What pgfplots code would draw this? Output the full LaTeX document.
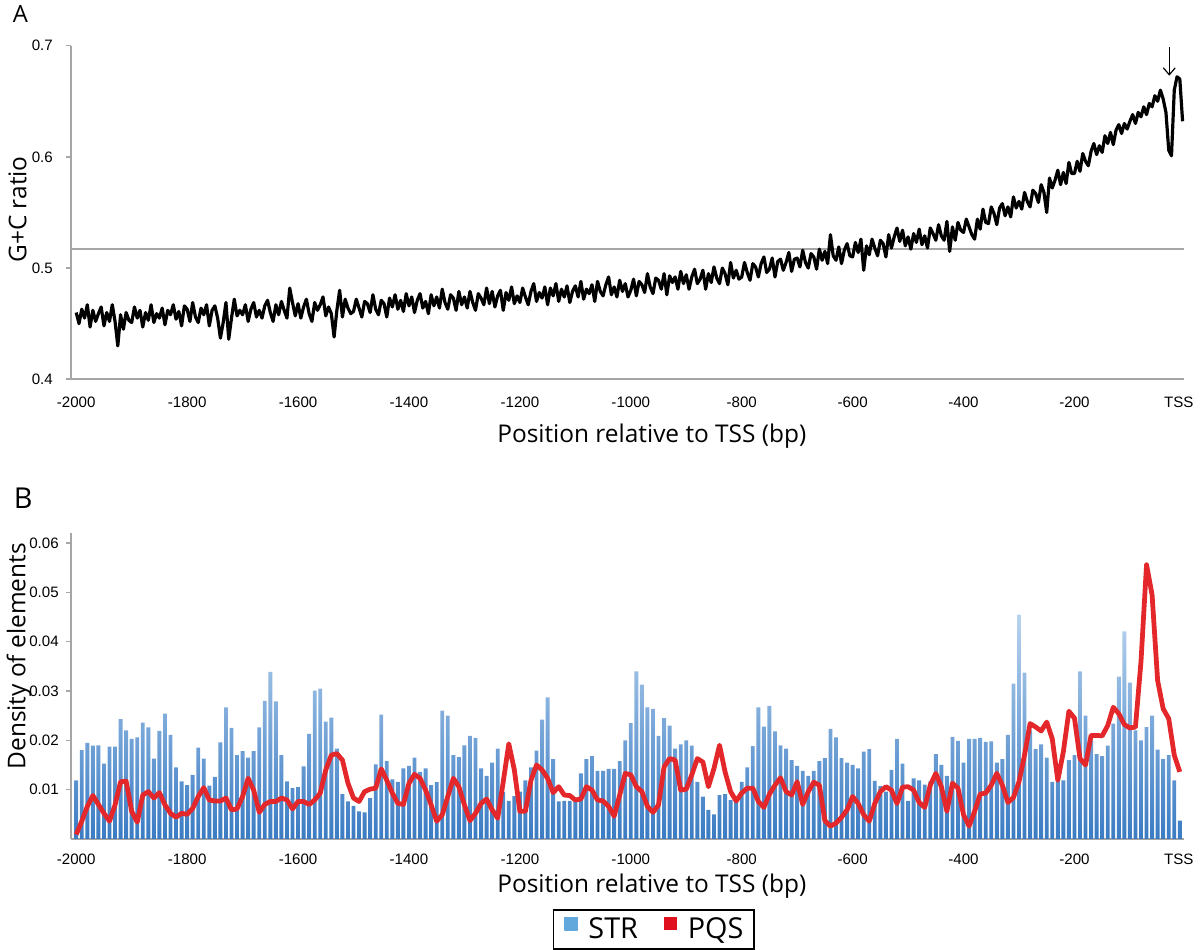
\documentclass[border=0pt]{standalone}
\usepackage{pgfplots}
\pgfplotsset{compat=1.18}
\usepackage{pgfplotstable}
\usetikzlibrary{arrows.meta}
\usepackage{fontspec}
\setmainfont{Liberation Sans}
\newfontfamily\lab{Open Sans}
\definecolor{axgray}{HTML}{A6A6A6}
\definecolor{barbot}{HTML}{3A7BC3}
\definecolor{bartop}{HTML}{B8D3EE}
\definecolor{pqsred}{HTML}{E3272A}
\definecolor{legblue}{HTML}{62A8DC}
\definecolor{legred}{HTML}{E0101F}

\pgfplotstableread[row sep=\\]{y\\
0.460\\0.450\\0.463\\0.455\\0.467\\0.447\\0.462\\0.452\\0.459\\0.465\\0.448\\0.460\\0.452\\0.467\\0.452\\0.430\\0.458\\0.445\\0.460\\0.453\\
0.451\\0.465\\0.455\\0.462\\0.447\\0.460\\0.453\\0.467\\0.451\\0.459\\0.455\\0.464\\0.449\\0.462\\0.458\\0.467\\0.454\\0.461\\0.448\\0.466\\
0.463\\0.452\\0.469\\0.456\\0.451\\0.464\\0.458\\0.467\\0.448\\0.462\\0.466\\0.455\\0.437\\0.451\\0.469\\0.436\\0.455\\0.472\\0.457\\0.462\\
0.458\\0.467\\0.452\\0.463\\0.469\\0.456\\0.462\\0.455\\0.466\\0.471\\0.460\\0.452\\0.467\\0.458\\0.470\\0.462\\0.455\\0.482\\0.469\\0.457\\
0.468\\0.455\\0.465\\0.472\\0.459\\0.452\\0.469\\0.462\\0.467\\0.474\\0.457\\0.465\\0.459\\0.438\\0.462\\0.480\\0.456\\0.472\\0.464\\0.459\\
0.461\\0.472\\0.464\\0.456\\0.470\\0.468\\0.460\\0.476\\0.463\\0.458\\0.471\\0.468\\0.456\\0.473\\0.465\\0.476\\0.463\\0.471\\0.461\\0.477\\
0.466\\0.474\\0.460\\0.471\\0.477\\0.464\\0.470\\0.459\\0.476\\0.466\\0.474\\0.464\\0.481\\0.469\\0.463\\0.476\\0.473\\0.462\\0.479\\0.467\\
0.474\\0.464\\0.479\\0.469\\0.462\\0.477\\0.473\\0.467\\0.482\\0.468\\0.479\\0.465\\0.475\\0.480\\0.462\\0.478\\0.471\\0.483\\0.468\\0.475\\
0.469\\0.482\\0.474\\0.467\\0.479\\0.486\\0.470\\0.478\\0.473\\0.483\\0.467\\0.482\\0.475\\0.486\\0.470\\0.481\\0.474\\0.484\\0.469\\0.479\\
0.484\\0.474\\0.488\\0.472\\0.481\\0.477\\0.485\\0.470\\0.488\\0.479\\0.475\\0.485\\0.492\\0.476\\0.483\\0.474\\0.489\\0.479\\0.486\\0.474\\
0.480\\0.490\\0.475\\0.488\\0.485\\0.478\\0.495\\0.483\\0.477\\0.491\\0.489\\0.481\\0.495\\0.476\\0.493\\0.487\\0.492\\0.481\\0.497\\0.486\\
0.494\\0.481\\0.492\\0.499\\0.486\\0.490\\0.498\\0.481\\0.495\\0.487\\0.501\\0.491\\0.486\\0.500\\0.495\\0.485\\0.505\\0.491\\0.498\\0.490\\
0.492\\0.505\\0.496\\0.489\\0.504\\0.501\\0.492\\0.504\\0.510\\0.496\\0.499\\0.509\\0.492\\0.506\\0.508\\0.498\\0.505\\0.514\\0.497\\0.508\\
0.509\\0.501\\0.516\\0.505\\0.500\\0.513\\0.510\\0.499\\0.517\\0.507\\0.515\\0.504\\0.530\\0.511\\0.507\\0.519\\0.504\\0.516\\0.522\\0.511\\
0.510\\0.523\\0.514\\0.526\\0.498\\0.520\\0.512\\0.526\\0.518\\0.511\\0.525\\0.522\\0.510\\0.530\\0.518\\0.528\\0.536\\0.524\\0.534\\0.520\\
0.528\\0.517\\0.531\\0.523\\0.535\\0.521\\0.529\\0.518\\0.536\\0.531\\0.525\\0.539\\0.529\\0.525\\0.542\\0.515\\0.537\\0.525\\0.541\\0.534\\
0.532\\0.544\\0.537\\0.530\\0.526\\0.544\\0.535\\0.553\\0.541\\0.540\\0.555\\0.549\\0.539\\0.554\\0.558\\0.547\\0.555\\0.546\\0.564\\0.554\\
0.560\\0.553\\0.568\\0.560\\0.555\\0.570\\0.567\\0.559\\0.575\\0.568\\0.550\\0.581\\0.572\\0.579\\0.588\\0.575\\0.586\\0.576\\0.595\\0.585\\
0.585\\0.596\\0.587\\0.603\\0.596\\0.592\\0.605\\0.612\\0.602\\0.610\\0.604\\0.619\\0.612\\0.622\\0.611\\0.624\\0.629\\0.621\\0.630\\0.625\\
0.632\\0.638\\0.630\\0.640\\0.636\\0.645\\0.638\\0.648\\0.645\\0.655\\0.650\\0.660\\0.652\\0.640\\0.606\\0.601\\0.660\\0.672\\0.670\\0.632\\
}\gctable

\pgfplotstableread[row sep=\\]{y\\
0.0119\\0.0180\\0.0195\\0.0189\\0.0190\\0.0153\\0.0187\\0.0187\\0.0243\\0.0220\\
0.0203\\0.0206\\0.0236\\0.0226\\0.0163\\0.0219\\0.0254\\0.0211\\0.0145\\0.0117\\
0.0109\\0.0130\\0.0185\\0.0163\\0.0108\\0.0126\\0.0196\\0.0267\\0.0225\\0.0170\\
0.0178\\0.0165\\0.0178\\0.0226\\0.0280\\0.0339\\0.0279\\0.0170\\0.0117\\0.0103\\
0.0105\\0.0147\\0.0213\\0.0301\\0.0305\\0.0238\\0.0246\\0.0183\\0.0091\\0.0076\\
0.0067\\0.0056\\0.0054\\0.0083\\0.0151\\0.0252\\0.0158\\0.0121\\0.0116\\0.0143\\
0.0148\\0.0165\\0.0136\\0.0143\\0.0109\\0.0115\\0.0260\\0.0250\\0.0170\\0.0166\\
0.0190\\0.0209\\0.0205\\0.0143\\0.0128\\0.0155\\0.0183\\0.0095\\0.0077\\0.0087\\
0.0096\\0.0119\\0.0145\\0.0179\\0.0242\\0.0287\\0.0162\\0.0076\\0.0077\\0.0077\\
0.0076\\0.0133\\0.0162\\0.0168\\0.0138\\0.0138\\0.0142\\0.0142\\0.0158\\0.0200\\
0.0235\\0.0340\\0.0313\\0.0267\\0.0264\\0.0209\\0.0245\\0.0230\\0.0183\\0.0192\\
0.0200\\0.0189\\0.0116\\0.0086\\0.0059\\0.0050\\0.0089\\0.0091\\0.0079\\0.0085\\
0.0116\\0.0145\\0.0188\\0.0267\\0.0228\\0.0270\\0.0218\\0.0190\\0.0183\\0.0160\\
0.0148\\0.0138\\0.0128\\0.0138\\0.0158\\0.0164\\0.0223\\0.0206\\0.0164\\0.0155\\
0.0150\\0.0143\\0.0177\\0.0182\\0.0118\\0.0107\\0.0096\\0.0140\\0.0203\\0.0153\\
0.0077\\0.0123\\0.0119\\0.0110\\0.0117\\0.0172\\0.0150\\0.0128\\0.0207\\0.0199\\
0.0155\\0.0203\\0.0203\\0.0205\\0.0197\\0.0198\\0.0155\\0.0162\\0.0211\\0.0315\\
0.0455\\0.0337\\0.0220\\0.0182\\0.0192\\0.0165\\0.0116\\0.0120\\0.0119\\0.0160\\
0.0170\\0.0340\\0.0250\\0.0200\\0.0172\\0.0168\\0.0189\\0.0234\\0.0329\\0.0421\\
0.0317\\0.0220\\0.0200\\0.0227\\0.0250\\0.0181\\0.0162\\0.0170\\0.0119\\0.0037\\
}\strtable

\pgfplotstableread[row sep=\\]{y\\
0.0009\\0.0036\\0.0066\\0.0088\\0.0070\\0.0052\\0.0036\\0.0069\\0.0116\\0.0117\\
0.0056\\0.0034\\0.0089\\0.0096\\0.0083\\0.0094\\0.0069\\0.0052\\0.0044\\0.0052\\
0.0050\\0.0062\\0.0086\\0.0104\\0.0079\\0.0077\\0.0077\\0.0083\\0.0059\\0.0061\\
0.0086\\0.0123\\0.0099\\0.0054\\0.0070\\0.0076\\0.0076\\0.0083\\0.0079\\0.0061\\
0.0076\\0.0076\\0.0070\\0.0079\\0.0093\\0.0140\\0.0170\\0.0173\\0.0160\\0.0113\\
0.0083\\0.0076\\0.0096\\0.0101\\0.0103\\0.0142\\0.0119\\0.0093\\0.0072\\0.0070\\
0.0113\\0.0131\\0.0123\\0.0099\\0.0069\\0.0036\\0.0049\\0.0086\\0.0123\\0.0106\\
0.0069\\0.0037\\0.0052\\0.0072\\0.0081\\0.0059\\0.0042\\0.0116\\0.0193\\0.0140\\
0.0056\\0.0056\\0.0119\\0.0150\\0.0140\\0.0123\\0.0094\\0.0106\\0.0089\\0.0088\\
0.0079\\0.0081\\0.0106\\0.0099\\0.0079\\0.0077\\0.0066\\0.0046\\0.0089\\0.0133\\
0.0130\\0.0106\\0.0096\\0.0066\\0.0054\\0.0069\\0.0146\\0.0163\\0.0160\\0.0099\\
0.0101\\0.0130\\0.0163\\0.0156\\0.0106\\0.0143\\0.0190\\0.0136\\0.0096\\0.0077\\
0.0093\\0.0103\\0.0103\\0.0076\\0.0064\\0.0091\\0.0109\\0.0124\\0.0096\\0.0089\\
0.0116\\0.0070\\0.0096\\0.0115\\0.0109\\0.0037\\0.0026\\0.0032\\0.0044\\0.0059\\
0.0086\\0.0072\\0.0049\\0.0036\\0.0072\\0.0096\\0.0106\\0.0099\\0.0072\\0.0105\\
0.0106\\0.0099\\0.0074\\0.0064\\0.0109\\0.0133\\0.0106\\0.0056\\0.0113\\0.0103\\
0.0049\\0.0026\\0.0056\\0.0091\\0.0093\\0.0109\\0.0133\\0.0109\\0.0074\\0.0084\\
0.0116\\0.0170\\0.0234\\0.0227\\0.0219\\0.0237\\0.0203\\0.0119\\0.0177\\0.0259\\
0.0245\\0.0163\\0.0150\\0.0210\\0.0210\\0.0209\\0.0230\\0.0267\\0.0254\\0.0232\\
0.0225\\0.0227\\0.0360\\0.0556\\0.0495\\0.0321\\0.0264\\0.0244\\0.0170\\0.0136\\
}\pqstable

\pgfplotsset{
  myax/.style={
    scale only axis, width=560.5pt,
    xmin=-2010, xmax=-3,
    axis x line*=bottom, axis y line*=left,
    axis line style={-, axgray, line width=1pt},
    xtick={-2000,-1800,-1600,-1400,-1200,-1000,-800,-600,-400,-200,-12},
    xticklabels={-2000,-1800,-1600,-1400,-1200,-1000,-800,-600,-400,-200,TSS},
    x tick style={draw=none},
    y tick style={axgray, line width=0.8pt},
    tick align=outside, major tick length=2.5pt,
    ticklabel style={font=\fontsize{7.6}{9}\selectfont},
    scaled y ticks=false, scaled x ticks=false,
    clip=false,
  }
}
\newcommand{\labfont}{\lab\fontsize{12.3}{14}\selectfont}

\begin{document}
\begin{tikzpicture}[x=1pt,y=1pt]
\path (0,0) rectangle (600,477);

% Panel A
\begin{axis}[myax, at={(33.35pt,286pt)}, anchor=south west, height=168pt,
  ymin=0.4, ymax=0.7, ytick={0.4,0.5,0.6,0.7}, yticklabels={0.4,0.5,0.6,0.7},
  yticklabel style={xshift=-3pt}, xticklabel style={yshift=-3pt}]
\addplot[axgray, line width=1pt] coordinates {(-2010,0.517) (-3,0.517)};
\addplot[black, line width=1.6pt, line join=round] table[x expr=\coordindex*5-2000, y index=0] {\gctable};
\draw[-{Straight Barb[length=3.5pt,width=6pt]}, line width=0.6pt] (axis cs:-29,0.699) -- (axis cs:-29,0.673);
\end{axis}

% Panel B
\begin{axis}[myax, at={(33.35pt,54.5pt)}, anchor=south west, height=154pt,
  ymin=0, ymax=0.062, ytick={0.01,0.02,0.03,0.04,0.05,0.06},
  yticklabels={0.01,0.02,0.03,0.04,0.05,0.06},
  yticklabel style={xshift=0pt}, xticklabel style={yshift=-1.5pt},
  legend columns=2,
  legend style={at={(0.524,-0.296)}, anchor=center, draw=black, line width=1pt,
    font=\lab\fontsize{14.5}{16}\selectfont, inner xsep=5.5pt, inner ysep=3.2pt,
    nodes={inner xsep=0pt, inner ysep=0.5pt},
    /tikz/every odd column/.append style={column sep=5.5pt},
    /tikz/every even column/.append style={column sep=13pt}},
  legend cell align=left,
  ]
\addplot[ybar, bar width=7, draw=none, top color=bartop, bottom color=barbot,
  legend image code/.code={\path[draw=none, fill=legblue, top color=legblue, bottom color=legblue] (0pt,-0.3pt) rectangle (6.6pt,6.1pt);}]
  table[x expr=\coordindex*10-2000, y index=0] {\strtable};
\addlegendentry{STR}
\addplot[pqsred, line width=2.4pt, line join=round,
  legend image code/.code={\path[draw=none, fill=legred] (0pt,-0.3pt) rectangle (6.6pt,6.1pt);}]
  table[x expr=\coordindex*10-2000, y index=0] {\pqstable};
\addlegendentry{PQS}
\end{axis}

\node[font=\labfont, anchor=base] at (326,254) {Position relative to TSS (bp)};
\node[font=\labfont, anchor=base] at (326,27.5) {Position relative to TSS (bp)};
\node[font=\labfont, rotate=90, anchor=base] at (11,371.5) {G+C ratio};
\node[font=\labfont, rotate=90, anchor=base] at (10.5,146.5) {Density of elements};
\node[font=\lab\fontsize{12}{14}\selectfont, anchor=base west, inner sep=0pt] at (4,465.5) {A};
\node[font=\lab\fontsize{14.5}{16}\selectfont, anchor=base west, inner sep=0pt] at (4.5,221) {B};
\end{tikzpicture}
\end{document}
